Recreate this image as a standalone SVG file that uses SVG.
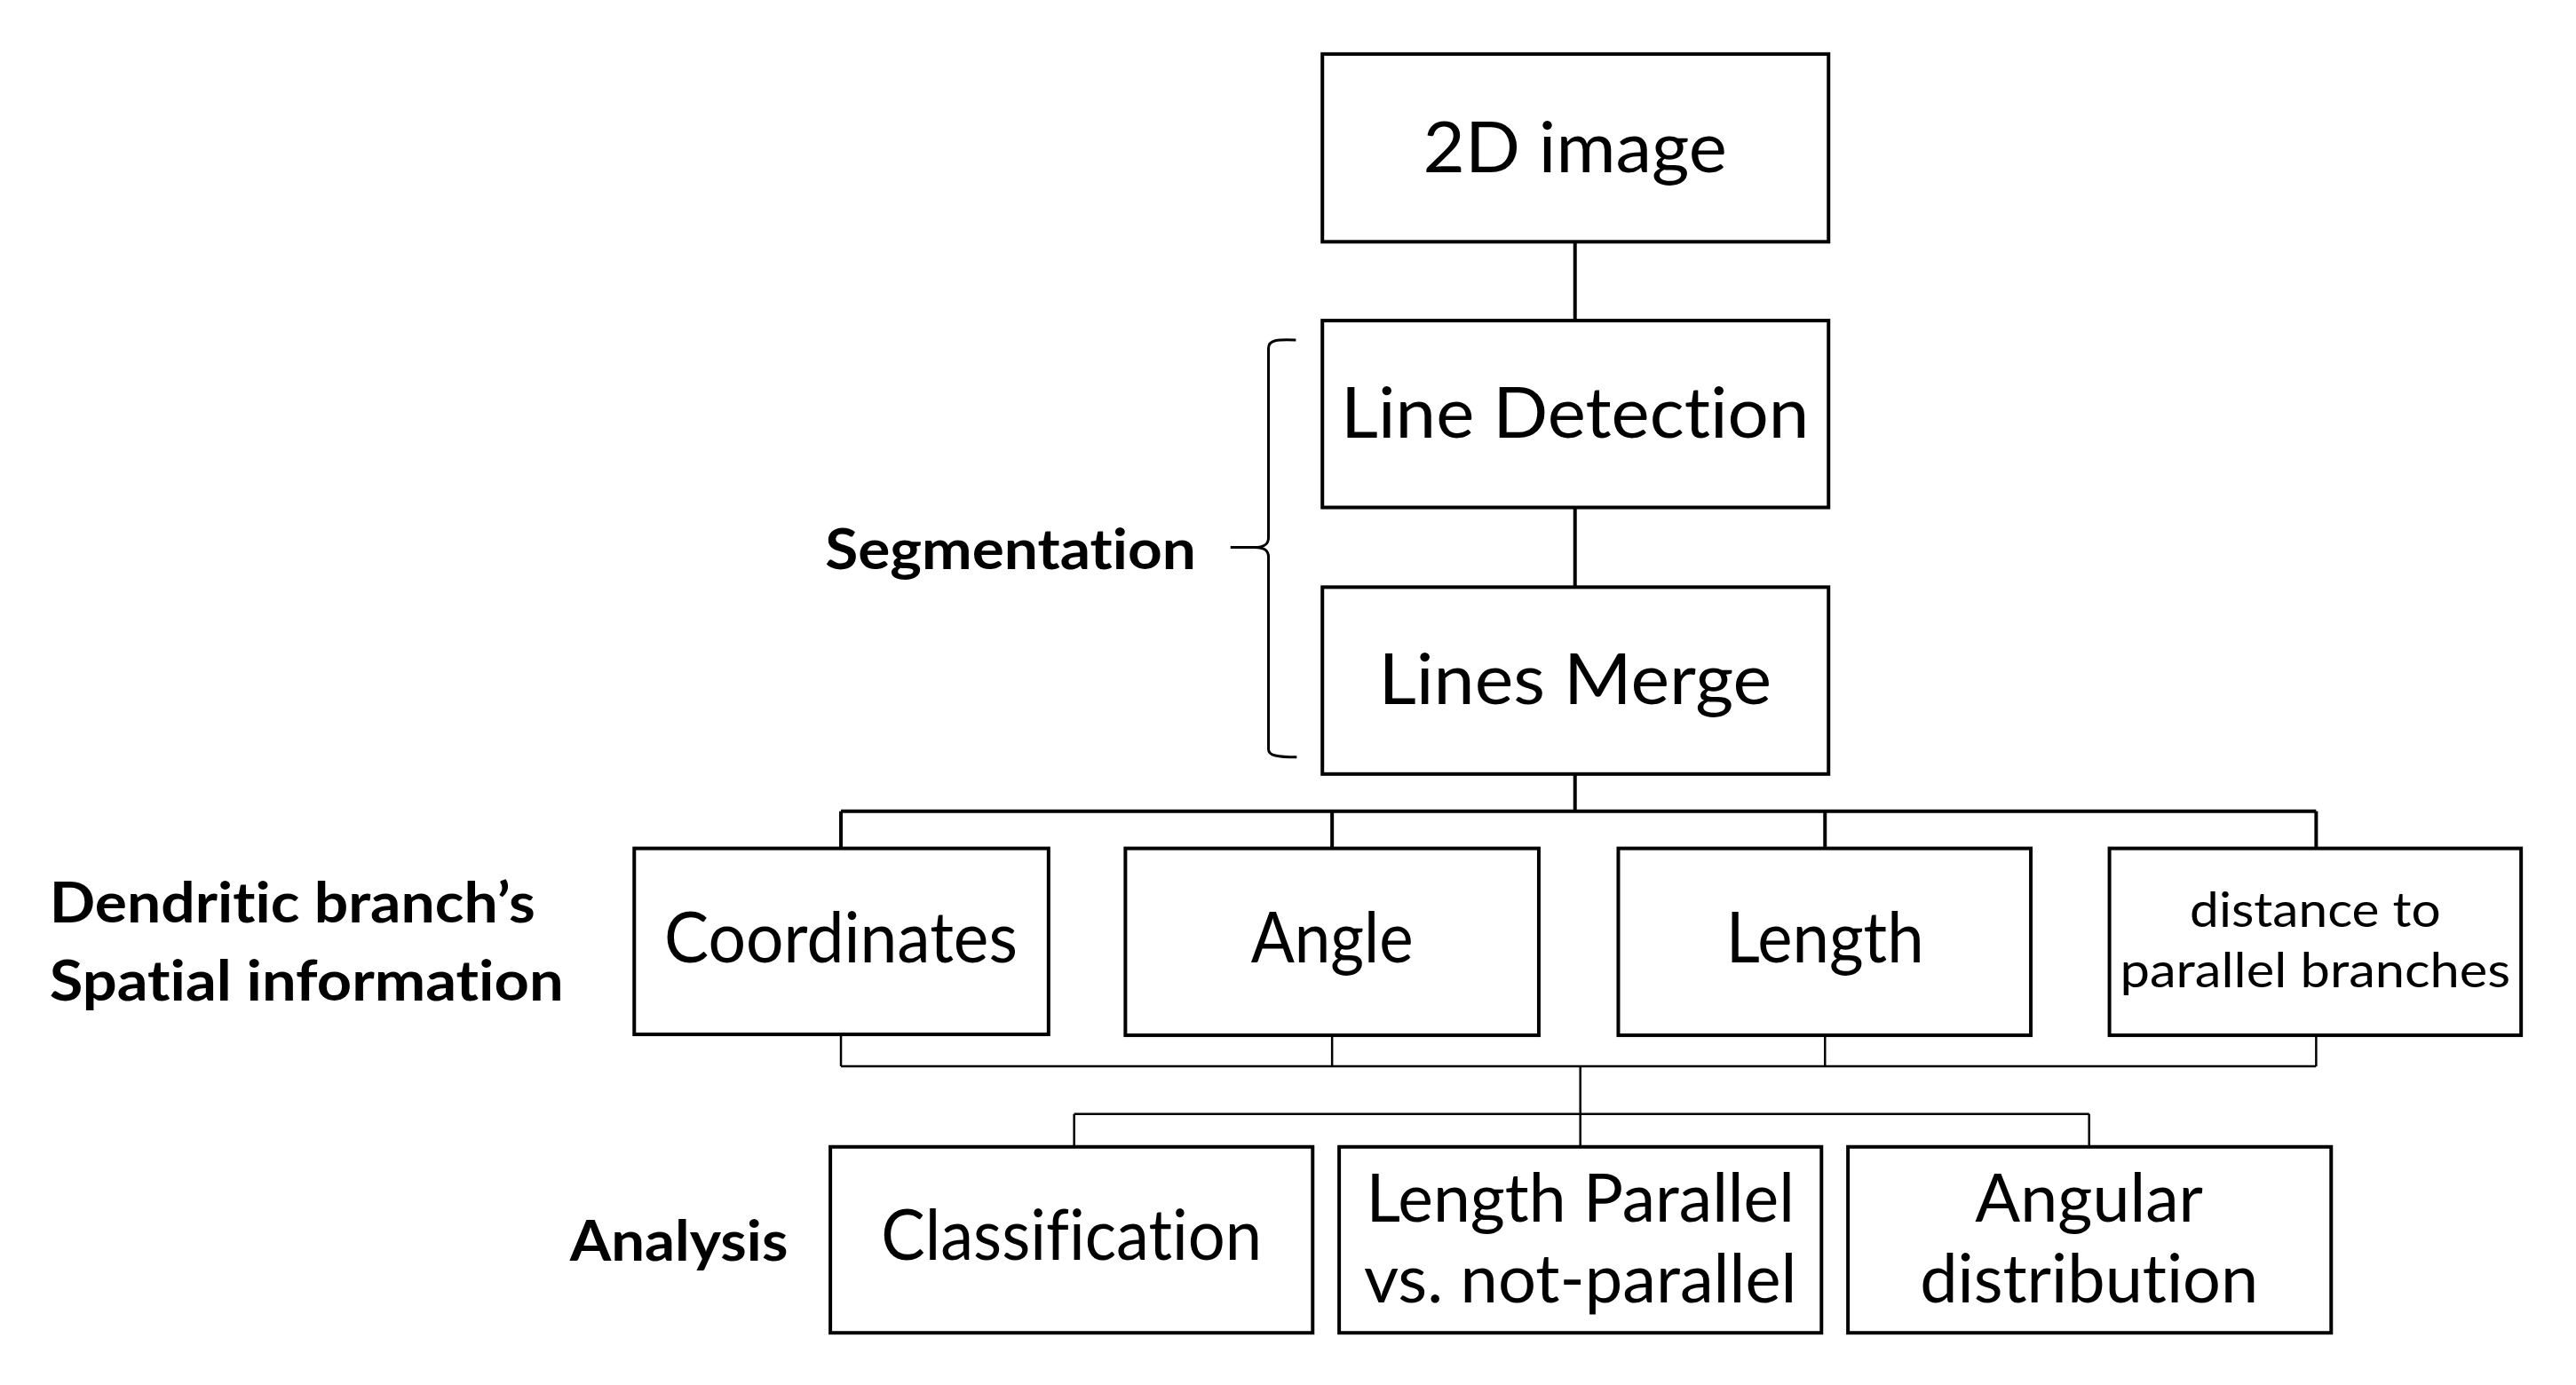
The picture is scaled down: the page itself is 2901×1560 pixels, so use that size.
<svg xmlns="http://www.w3.org/2000/svg" width="2901" height="1560" viewBox="0 0 2901 1560">
<style>
text{font-variant-ligatures:none;font-feature-settings:"liga" 0,"dlig" 0}
.box{fill:#fff;stroke:#000;stroke-width:4}
.t{font-family:Lato,"Open Sans","Liberation Sans",sans-serif;font-size:80px;fill:#000;text-anchor:middle}
.m{font-size:75px}
.s{font-size:55px}
.b{font-family:Lato,"Open Sans","Liberation Sans",sans-serif;font-weight:bold;font-size:63px;fill:#000}
.c1{fill:none;stroke:#000;stroke-width:4}
.c2{fill:none;stroke:#000;stroke-width:2.5}
</style>
<rect width="2901" height="1560" fill="#fff"/>
<g transform="scale(0.9948,0.9975)">
<g id="connectors">
<path class="c1" d="M1783,273V362M1783,573V663M1783,874V916M952,916H2622M952,916V958M1508,916V958M2066,916V958M2622,916V958"/>
<path class="c2" d="M952,1168V1204M1508,1168V1204M2066,1168V1204M2622,1168V1204M952,1204H2622M1789,1204V1295M1216,1258H2365M1216,1258V1295M2365,1258V1295"/>
<path class="c1" style="stroke-width:3" d="M1467,384C1446,383 1436,384 1436,393L1436,607C1436,614 1432,618 1420,618L1393,618M1420,618C1432,618 1436,622 1436,629L1436,846C1436,853 1446,855 1468,855"/>
</g>
<g id="n-2d"><rect class="box" x="1497" y="61" width="573" height="212"/><text class="t" x="1783" y="195" textLength="344" lengthAdjust="spacingAndGlyphs">2D image</text></g>
<g id="n-linedet"><rect class="box" x="1497" y="362" width="573" height="211"/><text class="t" x="1783" y="494" textLength="530" lengthAdjust="spacingAndGlyphs">Line Detection</text></g>
<g id="n-merge"><rect class="box" x="1497" y="663" width="573" height="211"/><text class="t" x="1783" y="795" textLength="445" lengthAdjust="spacingAndGlyphs">Lines Merge</text></g>
<g id="n-coord"><rect class="box" x="718" y="958" width="469" height="210"/><text class="t" x="952" y="1087" textLength="400" lengthAdjust="spacingAndGlyphs">Coordinates</text></g>
<g id="n-angle"><rect class="box" x="1274" y="958" width="468" height="211"/><text class="t" x="1508" y="1087" textLength="184" lengthAdjust="spacingAndGlyphs">Angle</text></g>
<g id="n-length"><rect class="box" x="1832" y="958" width="467" height="211"/><text class="t" x="2066" y="1087" textLength="224" lengthAdjust="spacingAndGlyphs">Length</text></g>
<g id="n-dist"><rect class="box" x="2388" y="958" width="466" height="211"/><text class="t s" x="2621" y="1047" textLength="284" lengthAdjust="spacingAndGlyphs">distance to</text><text class="t s" x="2621" y="1115" textLength="442" lengthAdjust="spacingAndGlyphs">parallel branches</text></g>
<g id="n-class"><rect class="box" x="940" y="1295" width="546" height="210"/><text class="t" x="1213" y="1423" textLength="431" lengthAdjust="spacingAndGlyphs">Classification</text></g>
<g id="n-lenpar"><rect class="box" x="1516" y="1295" width="546" height="210"/><text class="t m" x="1789" y="1379" textLength="485" lengthAdjust="spacingAndGlyphs">Length Parallel</text><text class="t m" x="1789" y="1471" textLength="490" lengthAdjust="spacingAndGlyphs">vs. not-parallel</text></g>
<g id="n-angular"><rect class="box" x="2092" y="1295" width="547" height="210"/><text class="t m" x="2365" y="1379" textLength="258" lengthAdjust="spacingAndGlyphs">Angular</text><text class="t m" x="2365" y="1471" textLength="383" lengthAdjust="spacingAndGlyphs">distribution</text></g>
<g id="labels">
<text class="b" x="934" y="643" textLength="420" lengthAdjust="spacingAndGlyphs">Segmentation</text>
<text class="b" x="56" y="1042" textLength="550" lengthAdjust="spacingAndGlyphs">Dendritic branch’s</text>
<text class="b" x="56" y="1130" textLength="582" lengthAdjust="spacingAndGlyphs">Spatial information</text>
<text class="b" x="645" y="1424" textLength="247" lengthAdjust="spacingAndGlyphs">Analysis</text>
</g>
</g>
</svg>
